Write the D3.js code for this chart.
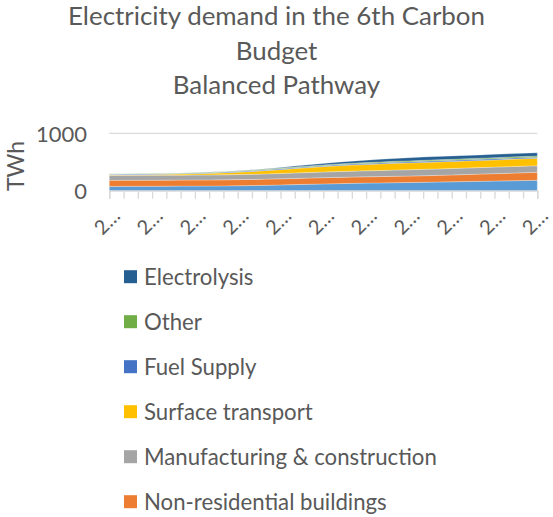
<!DOCTYPE html>
<html>
<head>
<meta charset="utf-8">
<script src="https://cdn.jsdelivr.net/npm/d3@7/dist/d3.min.js"></script>
<style>
  html, body { margin: 0; padding: 0; background: #fff; overflow: hidden; }
  svg { display: block; }
  text { font-family: Lato, "Open Sans", "Liberation Sans", sans-serif; fill: #595959; }
</style>
</head>
<body>
<svg id="chart" width="553" height="517"></svg>
<script>
// Years on the category axis
const years = d3.range(2020, 2051);

// Series names, bottom of the stack first
const seriesNames = [
  "Residential buildings",
  "Non-residential buildings",
  "Manufacturing & construction",
  "Surface transport",
  "Fuel Supply",
  "Other",
  "Electrolysis"
];

// Series colours, same order
const seriesColors = ["#5B9BD5", "#ED7D31", "#A5A5A5", "#FFC000", "#4472C4", "#70AD47", "#255E91"];

// Electricity demand by sector, TWh, 2020–2050
const residential = [75, 76, 77, 78, 79, 80, 81, 82, 84, 87, 90, 95, 100, 106, 112, 118, 123, 128, 132, 136, 140, 143, 147, 151, 155, 160, 164, 168, 172, 177, 181];
const nonResidential = [105, 105, 105, 105, 105, 105, 105, 105, 105, 106, 106, 107, 107, 108, 108, 109, 109, 110, 110, 110, 111, 112, 114, 116, 119, 122, 125, 129, 132, 136, 139];
const manufacturing = [87, 87, 86, 86, 86, 86, 86, 87, 87, 88, 89, 91, 93, 95, 97, 99, 101, 103, 105, 107, 109, 110, 111, 112, 113, 113, 114, 114, 115, 115, 115];
const surfaceTransport = [10, 11, 12, 14, 16, 19, 23, 28, 34, 41, 49, 58, 67, 77, 86, 94, 101, 106, 110, 114, 117, 119, 121, 122, 123, 124, 125, 126, 127, 128, 129];
const fuelSupply = [10, 10, 10, 10, 10, 11, 11, 11, 12, 12, 13, 13, 14, 14, 15, 15, 16, 16, 17, 17, 18, 18, 18, 19, 19, 19, 19, 20, 20, 20, 20];
const other = [8, 8, 8, 9, 9, 9, 10, 10, 11, 11, 12, 12, 13, 13, 14, 14, 15, 15, 16, 16, 17, 17, 18, 18, 18, 19, 19, 19, 20, 20, 20];
const electrolysis = [0, 0, 0, 0, 0, 0, 0, 1, 2, 3, 5, 8, 12, 16, 21, 26, 31, 36, 41, 46, 50, 54, 57, 58, 58, 58, 57, 57, 56, 56, 55];

// Y axis ticks
const yTicks = [0, 1000];

// Chart title lines
const titleLines = ["Electricity demand in the 6th Carbon", "Budget", "Balanced Pathway"];
const yAxisTitle = "TWh";

const seriesValues = [residential, nonResidential, manufacturing, surfaceTransport, fuelSupply, other, electrolysis];

// Build table rows for d3.stack
const table = years.map((yr, i) => {
  const row = { year: yr };
  seriesNames.forEach((name, s) => { row[name] = seriesValues[s][i]; });
  return row;
});

const W = 553, H = 517;
const svg = d3.select("#chart");

const plot = { left: 109.3, right: 537.3, top: 133.3, bottom: 190.7 };

const x = d3.scalePoint().domain(years).range([plot.left, plot.right]);
const y = d3.scaleLinear().domain([0, 1000]).range([plot.bottom, plot.top]);

// Title
svg.append("g").selectAll("text").data(titleLines).join("text")
  .attr("x", 276.5)
  .attr("y", (d, i) => 25 + i * 34.5)
  .attr("text-anchor", "middle")
  .style("font-size", "25.9px")
  .text(d => d);

// Gridline at 1000
svg.append("g").selectAll("line").data(yTicks.filter(v => v > 0)).join("line")
  .attr("x1", plot.left).attr("x2", plot.right)
  .attr("y1", d => y(d)).attr("y2", d => y(d))
  .attr("stroke", "#D9D9D9").attr("stroke-width", 1.3);

// Stacked areas
const stack = d3.stack().keys(seriesNames);
const layers = stack(table);
const area = d3.area()
  .x(d => x(d.data.year))
  .y0(d => y(d[0]))
  .y1(d => y(d[1]));

svg.append("g").selectAll("path").data(layers).join("path")
  .attr("d", area)
  .attr("fill", (d, i) => seriesColors[i])
  .attr("stroke", "#ffffff")
  .attr("stroke-opacity", 0.45)
  .attr("stroke-width", 0.6);

// Category axis with tick marks
const xAxis = d3.axisBottom(x).tickSize(8).tickFormat("");
const gx = svg.append("g").attr("transform", `translate(0,${plot.bottom})`).call(xAxis);
gx.select(".domain").attr("stroke", "#D9D9D9").attr("stroke-width", 1.3);
gx.selectAll(".tick line").attr("stroke", "#D9D9D9").attr("stroke-width", 1.3);

// Rotated, truncated year labels every third year
const labelYears = years.filter((yr, i) => i % 3 === 0);
svg.append("g").selectAll("text").data(labelYears).join("text")
  .attr("transform", d => `translate(${x(d) - 3},221) rotate(-45)`)
  .attr("text-anchor", "middle")
  .attr("dominant-baseline", "central")
  .style("font-size", "20px")
  .text(d => String(d).slice(0, 1) + "\u2026");

// Value axis labels
const yAxis = d3.axisLeft(y).tickValues(yTicks).tickSize(0).tickPadding(0).tickFormat(d3.format("d"));
const gy = svg.append("g").attr("transform", "translate(87,0)").call(yAxis);
gy.select(".domain").remove();
gy.selectAll("text")
  .style("font-size", "22px")
  .style("font-family", "Lato, 'Open Sans', sans-serif")
  .attr("fill", "#595959")
  .attr("dy", "0.35em");

// Value axis title
svg.append("text")
  .attr("transform", "translate(15,166) rotate(-90)")
  .attr("text-anchor", "middle")
  .attr("dominant-baseline", "central")
  .style("font-size", "23px")
  .text(yAxisTitle);

// Legend, top of the stack first; only rows that fit inside the chart are drawn
const legendTop = 276.7, legendStep = 45;
const legendOrder = seriesNames.map((name, i) => ({ name, color: seriesColors[i] })).reverse()
  .filter((d, i) => legendTop + i * legendStep + 12 <= H);
const legend = svg.append("g").selectAll("g").data(legendOrder).join("g")
  .attr("transform", (d, i) => `translate(124,${legendTop + i * legendStep})`);
legend.append("rect")
  .attr("x", 0).attr("y", -6.5).attr("width", 13).attr("height", 13)
  .attr("fill", d => d.color);
legend.append("text")
  .attr("x", 20).attr("y", 0)
  .attr("dominant-baseline", "central")
  .style("font-size", "22.2px")
  .text(d => d.name);
</script>
</body>
</html>
